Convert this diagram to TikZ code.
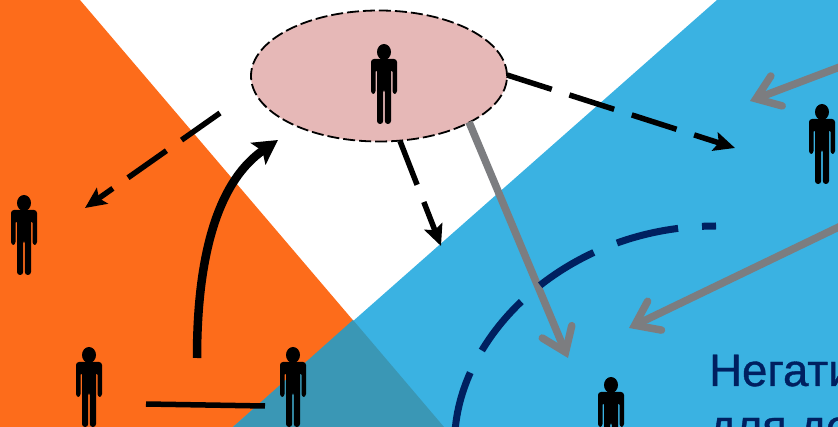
\documentclass[tikz,border=0pt]{standalone}
\usepackage{fontspec}
\newfontfamily\labelfont[FakeBold=0.8]{Liberation Sans}
\usetikzlibrary{arrows.meta,shapes.geometric}
\definecolor{orangezone}{HTML}{FD6C1B}
\definecolor{bluezone}{HTML}{3AB2E2}
\definecolor{overlapzone}{HTML}{3A97B5}
\definecolor{groupfill}{HTML}{E6B8B7}
\definecolor{navyarc}{HTML}{002060}
\definecolor{greyarrow}{HTML}{7C7D80}
\tikzset{
  person/.pic={
    \fill (0,-33) ellipse [x radius=7, y radius=8];
    \fill [rounded corners=3pt] (-13,-26) -- (13,-26) -- (13,9) -- (8.5,9) -- (8.5,-16) -- (7,-16)
      -- (7,39) -- (0.8,39) -- (0.8,4) -- (-0.8,4) -- (-0.8,39) -- (-7,39) -- (-7,-16) -- (-8.5,-16)
      -- (-8.5,9) -- (-13,9) -- cycle;
  },
  dashedarrow/.style={line width=5.5pt, dash pattern=on 47pt off 18.5pt, -{Stealth[length=21pt, width=19pt, inset=4pt]}},
  solidarrow/.style={line width=8.5pt, -{Stealth[length=24pt, width=26pt, inset=5pt]}},
  greyconn/.style={greyarrow, line width=7.5pt, line cap=round, -{Straight Barb[length=22pt, width=32pt, line cap=round, line join=miter]}},
  textlabel/.style={navyarc, font=\labelfont\fontsize{45.5}{46}\selectfont, anchor=base west, inner sep=0pt},
}
\begin{document}
\begin{tikzpicture}[x=1pt, y=-1pt]
  \clip (0,0) rectangle (838,427);
  \fill [orangezone] (0,0) -- (80,0) -- (444,427) -- (0,427) -- cycle;
  \fill [bluezone] (717,0) -- (838,0) -- (838,427) -- (233,427) -- cycle;
  \fill [overlapzone] (353,320) -- (444,427) -- (233,427) -- cycle;

  \node (group) at (379,76) [ellipse, draw, dash pattern=on 12pt off 4pt, line width=1.8pt, fill=groupfill, minimum width=256pt, minimum height=131pt, inner sep=0pt] {};
  \pic (leader) at (384,85) {person};
  \pic (pleft) at (24,236) {person};
  \pic (lowa) at (89,388) {person};
  \pic (lowb) at (293,388) {person};
  \pic (pright) at (822,145) {person};
  \pic (target) at (611,418) {person};

  \node (neg) at (709,386) [textlabel] {Негати};
  \node (dlya) at (709,442) [textlabel] {для дос};

  \coordinate (leftfrom) at (220,113);
  \coordinate (leftto) at (85,208);
  \coordinate (rightfrom) at (507,75);
  \coordinate (rightto) at (735,148);
  \coordinate (midfrom) at (400,141);
  \coordinate (midto) at (441,246);
  \coordinate (curvefrom) at (197,358);
  \coordinate (curveto) at (278,140);
  \coordinate (linefrom) at (146,404);
  \coordinate (lineto) at (265,406);
  \coordinate (greyafrom) at (469,122);
  \coordinate (greyato) at (568,358);
  \coordinate (greybfrom) at (845,65);
  \coordinate (greybto) at (750,101);
  \coordinate (greycfrom) at (845,224);
  \coordinate (greycto) at (629,328);
  \coordinate (arcfrom) at (716,226);
  \coordinate (arcto) at (455,432);

  \draw [dashedarrow] (leftfrom) -- (leftto);
  \draw [dashedarrow] (rightfrom) -- (rightto);
  \draw [dashedarrow] (midfrom) -- (midto);
  \draw [solidarrow] (curvefrom) .. controls (197,250) and (220,180) .. (curveto);
  \draw [line width=5.5pt] (linefrom) -- (lineto);
  \draw [greyconn, line cap=butt] (greyafrom) -- (greyato);
  \draw [greyconn] (greybfrom) -- (greybto);
  \draw [greyconn] (greycfrom) -- (greycto);
  \draw [navyarc, line width=7pt, dash pattern=on 14pt off 24pt on 63pt off 25pt on 63pt off 25pt on 63pt off 25pt on 90pt off 0pt] (arcfrom) .. controls (570,226) and (462,330) .. (arcto);
\end{tikzpicture}
\end{document}
